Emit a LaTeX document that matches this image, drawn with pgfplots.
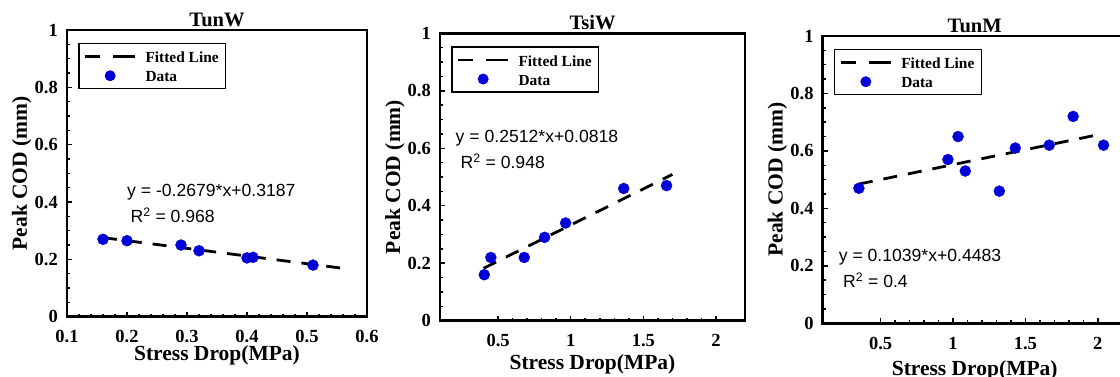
\documentclass[border=0pt]{standalone}
\usepackage{fontspec}
\setmainfont{Liberation Serif}
\newfontfamily\eqfont{Liberation Sans}
\usepackage{pgfplots}
\pgfplotsset{compat=1.18}
\definecolor{mblue}{RGB}{0,0,215}

\tikzset{eqnode/.style={anchor=base west, inner sep=0pt, font=\eqfont\fontsize{17.6}{20}\selectfont}}

\pgfplotsset{
  codstyle/.style={
    scale only axis,
    anchor=south west,
    axis line style={line width=2.7pt},
    tick align=inside,
    tick pos=left,
    major tick length=5pt,
    minor tick length=3pt,
    every tick/.style={black, line width=1.5pt},
    minor y tick num=3,
    minor x tick num=4,
    ymin=0, ymax=1,
    ytick={0,0.2,0.4,0.6,0.8,1},
    /pgf/number format/assume math mode=true,
    tick label style={font=\fontsize{18.5}{20}\selectfont\bfseries},
    xticklabel style={anchor=base, inner sep=0pt, yshift=-26pt},
    yticklabel style={anchor=east, inner sep=0pt, xshift=-9pt},
    every axis title/.style={font=\fontsize{20.5}{22}\selectfont\bfseries, at={(axis description cs:0.5,1)}, anchor=base, yshift=3.5pt, inner sep=0pt},
    xlabel={Stress Drop(MPa)},
    ylabel={Peak COD (mm)},
    every axis x label/.style={at={(axis description cs:0.5,0)}, anchor=base, inner sep=0pt, font=\fontsize{21.5}{24}\selectfont\bfseries},
    every axis y label/.style={at={(axis description cs:0,0.5)}, xshift=-40pt, rotate=90, anchor=base, inner sep=0pt, font=\fontsize{21.5}{24}\selectfont\bfseries},
    legend style={at={(axis description cs:0,1)}, anchor=north west, xshift=11pt, yshift=-13pt,
      draw=black, line width=1.5pt, fill=white,
      font=\fontsize{15.4}{17}\selectfont\bfseries,
      inner xsep=5pt, inner ysep=4pt, row sep=1pt, column sep=7pt,
      nodes={inner sep=2pt, text height=13pt, text depth=1pt}},
    legend cell align=left,
  },
  fitline/.style={black, line width=2.8pt, dash pattern=on 14pt off 11pt,
    legend image code/.code={\draw[black, line width=2.8pt, solid] (0pt,0pt) -- (15pt,0pt) (28pt,0pt) -- (50pt,0pt);}},
  datapts/.style={only marks, mark=*, mark size=5.5pt, mark options={draw=mblue, fill=mblue},
    legend image code/.code={\path[draw=none, fill=none] (0pt,0pt) -- (50pt,0pt); \path[draw=none, fill=mblue] (25pt,0pt) circle[radius=5.5pt];}},
}

\begin{document}
\begin{tikzpicture}
% ---------- TunW ----------
\begin{axis}[codstyle, at={(67pt,60.3pt)}, width=300pt, height=286.7pt,
  xmin=0.1, xmax=0.6, xtick={0.1,0.2,0.3,0.4,0.5,0.6},
  xlabel style={yshift=-44pt}, title={TunW}]
\addplot[fitline] coordinates {(0.16,0.2758) (0.556,0.1698)};
\addlegendentry{Fitted Line}
\addplot[datapts] coordinates {(0.16,0.27) (0.20,0.265) (0.29,0.25) (0.32,0.23) (0.40,0.205) (0.41,0.207) (0.51,0.18)};
\addlegendentry{Data}
\node[eqnode] at (axis cs:0.2,0.419) {y = -0.2679*x+0.3187};
\node[eqnode] at (axis cs:0.2056,0.328) {R\textsuperscript{2} = 0.968};
\end{axis}
% ---------- TsiW ----------
\begin{axis}[codstyle, at={(440pt,56.3pt)}, width=305pt, height=287.4pt,
  xmin=0.1, xmax=2.2, xtick={0.5,1,1.5,2},
  xlabel style={yshift=-49pt}, title={TsiW}]
\addplot[fitline] coordinates {(0.40,0.1823) (1.70,0.5088)};
\addlegendentry{Fitted Line}
\addplot[datapts] coordinates {(0.405,0.16) (0.45,0.22) (0.68,0.22) (0.82,0.29) (0.965,0.34) (1.365,0.46) (1.66,0.47)};
\addlegendentry{Data}
\node[eqnode] at (axis cs:0.207,0.619) {y = 0.2512*x+0.0818};
\node[eqnode] at (axis cs:0.241,0.530) {R\textsuperscript{2} = 0.948};
\end{axis}
% ---------- TunM ----------
\begin{axis}[codstyle, at={(822.7pt,53.7pt)}, width=304pt, height=287.3pt,
  xmin=0.1, xmax=2.2, xtick={0.5,1,1.5,2},
  xlabel style={yshift=-52pt}, title={TunM}]
\addplot[fitline] coordinates {(0.35,0.4847) (1.97,0.6530)};
\addlegendentry{Fitted Line}
\addplot[datapts] coordinates {(0.35,0.47) (0.965,0.57) (1.035,0.65) (1.085,0.53) (1.32,0.46) (1.43,0.61) (1.665,0.62) (1.83,0.72) (2.04,0.62)};
\addlegendentry{Data}
\node[eqnode] at (axis cs:0.21,0.2146) {y = 0.1039*x+0.4483};
\node[eqnode] at (axis cs:0.24,0.125) {R\textsuperscript{2} = 0.4};
\end{axis}
\pgfresetboundingbox
\path[use as bounding box] (0pt,0pt) rectangle (1120pt,377pt);
\end{tikzpicture}
\end{document}
